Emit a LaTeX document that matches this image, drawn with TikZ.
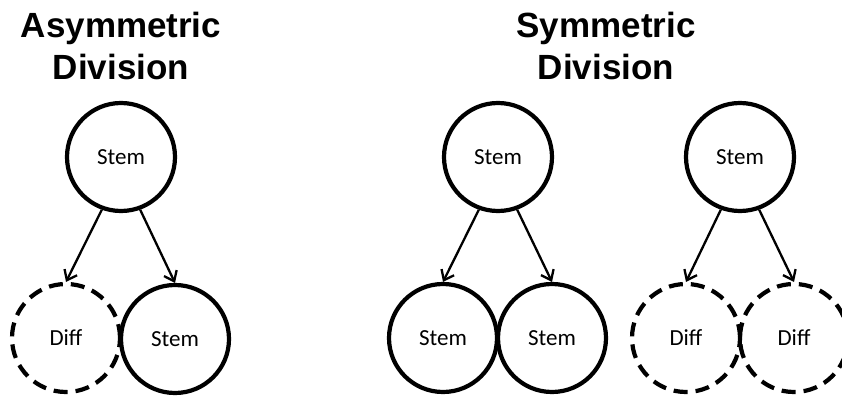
\documentclass[tikz,border=0pt]{standalone}
\usepackage{fontspec}
\setmainfont{Carlito}
\newfontfamily\titlefont{Liberation Sans}
\usetikzlibrary{arrows.meta}
\begin{document}
\begin{tikzpicture}[x=1pt,y=-1pt,
  cell/.style={circle,draw,line width=4.2pt,minimum size=108pt,inner sep=0pt,font=\fontsize{23}{27}\selectfont},
  diffcell/.style={cell,dash pattern=on 14pt off 8pt},
  arr/.style={line width=2.3pt,-{Straight Barb[length=9pt,width=14pt,line width=2.3pt]}},
  title/.style={align=center,inner sep=0pt,anchor=base,font=\titlefont\bfseries\fontsize{35}{42}\selectfont}]
\useasboundingbox (0,0) rectangle (842,398);
\node[title] (t1) at (121,80) {Asymmetric\\Division};
\node[title] (t2) at (606,80) {Symmetric\\Division};
% asymmetric
\node[cell] (a0) at (121,157) {Stem};
\node[diffcell] (a1) at (66,338) {Diff};
\node[cell] (a2) at (175,339) {Stem};
\draw[arr] (a0.250) -- (a1.north);
\draw[arr] (a0.290) -- (a2.north);
% symmetric stem
\node[cell] (b0) at (498,157) {Stem};
\node[cell] (b1) at (443,338) {Stem};
\node[cell] (b2) at (552,338) {Stem};
\draw[arr] (b0.250) -- (b1.north);
\draw[arr] (b0.290) -- (b2.north);
% symmetric diff
\node[cell] (c0) at (740,157) {Stem};
\node[diffcell] (c1) at (686,338) {Diff};
\node[diffcell] (c2) at (794,338) {Diff};
\draw[arr] (c0.250) -- (c1.north);
\draw[arr] (c0.290) -- (c2.north);
\end{tikzpicture}
\end{document}
